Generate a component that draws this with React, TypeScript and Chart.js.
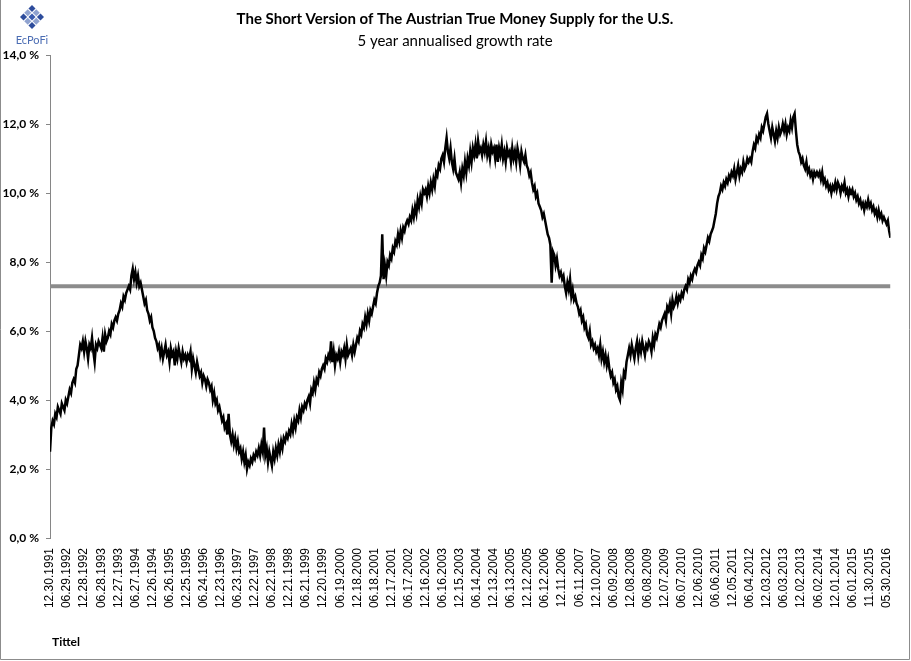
import React, { useEffect, useRef } from "react";
import { Chart, registerables } from "chart.js";
Chart.register(...registerables);

const titleText = "The Short Version of The Austrian True Money Supply for the U.S.";
const subtitleText = "5 year annualised growth rate";
const axisTitle = "Tittel";
const brandText = "EcPoFi";

// half-year tick labels (every 13 bi-weekly observations)
const tickLabels = [
  "12.30.1991", "06.29.1992", "12.28.1992", "06.28.1993", "12.27.1993", "06.27.1994",
  "12.26.1994", "06.26.1995", "12.25.1995", "06.24.1996", "12.23.1996", "06.23.1997",
  "12.22.1997", "06.22.1998", "12.21.1998", "06.21.1999", "12.20.1999", "06.19.2000",
  "12.18.2000", "06.18.2001", "12.17.2001", "06.17.2002", "12.16.2002", "06.16.2003",
  "12.15.2003", "06.14.2004", "12.13.2004", "06.13.2005", "12.12.2005", "06.12.2006",
  "12.11.2006", "06.11.2007", "12.10.2007", "06.09.2008", "12.08.2008", "06.08.2009",
  "12.07.2009", "06.07.2010", "12.06.2010", "06.06.2011", "12.05.2011", "06.04.2012",
  "12.03.2012", "06.03.2013", "12.02.2013", "06.02.2014", "12.01.2014", "06.01.2015",
  "11.30.2015", "05.30.2016",
];
const pointsPerTick = 13;

// 5 year annualised growth rate (%), bi-weekly readings
const growth = [
  2.5, 3.2, 3.4, 3.3, 3.6, 3.5, 3.8, 3.7, 3.6, 3.9, 3.8, 3.7, 4.0,
  3.9, 4.1, 4.3, 4.2, 4.5, 4.6, 4.5, 4.9, 5.0, 5.3, 5.6, 5.5, 5.7,
  5.4, 5.7, 5.5, 5.2, 5.6, 5.5, 5.8, 5.4, 5.1, 5.6, 5.5, 5.7, 5.6,
  5.5, 5.8, 5.4, 5.9, 5.7, 5.8, 6.0, 5.9, 6.2, 6.1, 6.3, 6.4, 6.3,
  6.5, 6.6, 6.8, 6.7, 7.0, 6.9, 7.1, 7.2, 7.3, 7.2, 7.6, 7.8, 7.5,
  7.7, 7.4, 7.6, 7.3, 7.4, 7.2, 7.0, 6.8, 6.9, 6.6, 6.5, 6.3, 6.4,
  6.1, 6.0, 5.8, 5.7, 5.5, 5.6, 5.3, 5.5, 5.2, 5.4, 5.6, 5.3, 5.4,
  5.1, 5.5, 5.3, 5.4, 5.0, 5.4, 5.2, 5.5, 5.3, 5.1, 5.4, 5.2, 5.3,
  5.1, 5.3, 5.2, 5.4, 4.9, 5.2, 5.0, 4.8, 5.1, 4.9, 4.7, 4.8, 4.5,
  4.7, 4.6, 4.4, 4.6, 4.5, 4.3, 4.4, 4.0, 4.2, 3.9, 4.0, 3.7, 3.8,
  3.6, 3.4, 3.5, 3.2, 3.3, 3.0, 3.6, 3.0, 2.8, 3.0, 2.7, 2.9, 2.6,
  2.8, 2.5, 2.6, 2.3, 2.5, 2.2, 2.4, 2.0, 2.2, 2.1, 2.3, 2.2, 2.4,
  2.3, 2.5, 2.4, 2.6, 2.4, 2.7, 2.5, 3.2, 2.4, 2.6, 2.2, 2.5, 2.3,
  2.1, 2.5, 2.3, 2.6, 2.4, 2.7, 2.5, 2.8, 2.6, 2.9, 2.8, 3.0, 2.9,
  3.1, 3.0, 3.3, 3.1, 3.4, 3.2, 3.5, 3.4, 3.7, 3.5, 3.8, 3.7, 3.9,
  3.8, 4.0, 4.1, 3.9, 4.3, 4.2, 4.5, 4.3, 4.6, 4.5, 4.8, 4.7, 4.9,
  5.0, 4.9, 5.2, 5.1, 5.3, 5.2, 5.7, 5.1, 5.4, 5.0, 5.3, 5.2, 5.4,
  5.1, 5.4, 5.3, 5.5, 5.2, 5.6, 5.3, 5.4, 5.5, 5.3, 5.6, 5.4, 5.6,
  5.8, 5.7, 6.0, 5.9, 6.2, 6.1, 6.4, 6.2, 6.5, 6.3, 6.6, 6.5, 6.7,
  6.9, 6.8, 7.1, 7.3, 7.4, 7.6, 8.8, 7.5, 7.9, 7.6, 8.0, 7.9, 8.2,
  8.1, 8.4, 8.3, 8.6, 8.5, 8.8, 8.6, 8.9, 8.7, 9.0, 8.9, 9.1, 9.2,
  9.1, 9.3, 9.2, 9.5, 9.3, 9.6, 9.4, 9.8, 9.6, 9.9, 9.7, 10.1, 10.0,
  10.1, 9.9, 10.2, 10.0, 10.3, 10.1, 10.4, 10.2, 10.6, 10.5, 10.8, 10.7, 11.0,
  11.1, 10.9, 11.3, 11.6, 11.2, 11.0, 11.3, 10.9, 10.7, 11.0, 10.6, 10.5, 10.4,
  10.6, 10.3, 10.7, 10.5, 10.9, 10.6, 11.0, 10.8, 11.2, 10.9, 11.3, 11.1, 11.4,
  11.0, 11.5, 11.2, 11.3, 11.1, 11.4, 11.2, 11.5, 11.1, 11.3, 11.0, 11.4, 11.2,
  11.3, 11.0, 11.4, 10.9, 11.3, 11.1, 11.4, 11.0, 11.2, 10.9, 11.3, 11.1, 11.2,
  10.9, 11.3, 11.0, 11.2, 10.9, 11.3, 11.1, 10.8, 11.2, 11.0, 10.9, 11.1, 10.8,
  10.7, 10.5, 10.6, 10.3, 10.1, 10.2, 9.9, 10.0, 9.7, 9.6, 9.5, 9.3, 9.4,
  9.2, 9.0, 8.8, 8.7, 8.5, 7.4, 8.3, 8.2, 7.9, 8.1, 7.8, 7.6, 7.7,
  7.5, 7.6, 7.3, 7.1, 7.4, 7.2, 7.5, 7.0, 7.2, 6.9, 7.0, 6.8, 6.7,
  6.5, 6.6, 6.3, 6.4, 6.1, 6.2, 5.9, 5.8, 6.0, 5.6, 5.7, 5.5, 5.6,
  5.4, 5.5, 5.3, 5.6, 5.2, 5.4, 5.1, 5.3, 5.0, 5.2, 4.9, 4.7, 4.8,
  4.5, 4.6, 4.3, 4.4, 4.1, 4.0, 4.5, 4.3, 4.8, 4.7, 5.1, 5.3, 5.5,
  5.3, 5.6, 5.4, 5.2, 5.5, 5.7, 5.3, 5.6, 5.4, 5.7, 5.5, 5.3, 5.6,
  5.5, 5.7, 5.6, 5.4, 5.8, 5.6, 5.9, 5.8, 6.0, 6.2, 6.1, 6.3, 6.4,
  6.5, 6.3, 6.7, 6.6, 6.8, 6.5, 6.9, 6.7, 6.8, 7.0, 6.8, 7.0, 6.9,
  7.1, 7.0, 7.2, 7.3, 7.2, 7.5, 7.4, 7.6, 7.5, 7.7, 7.8, 7.7, 7.9,
  8.0, 7.9, 8.2, 8.1, 8.4, 8.3, 8.5, 8.7, 8.6, 8.8, 8.9, 9.0, 9.2,
  9.4, 9.7, 9.9, 10.0, 10.2, 10.1, 10.3, 10.2, 10.4, 10.3, 10.5, 10.4, 10.6,
  10.5, 10.7, 10.4, 10.6, 10.8, 10.5, 10.7, 10.6, 10.9, 10.7, 10.8, 11.0, 10.9,
  11.0, 10.9, 11.2, 11.4, 11.3, 11.6, 11.5, 11.7, 11.6, 11.9, 11.8, 12.0, 12.2,
  12.3, 12.0, 11.8, 11.6, 11.9, 11.7, 11.5, 11.8, 11.6, 11.9, 11.7, 11.8, 12.0,
  11.8, 12.0, 11.7, 11.9, 11.8, 12.1, 11.9, 12.2, 12.3, 11.8, 11.4, 11.2, 11.1,
  10.9, 11.0, 10.8, 10.7, 10.9, 10.6, 10.7, 10.5, 10.6, 10.4, 10.6, 10.5, 10.6,
  10.5, 10.6, 10.4, 10.6, 10.3, 10.4, 10.2, 10.3, 10.1, 10.2, 10.0, 10.2, 10.1,
  10.3, 10.1, 10.3, 10.2, 10.0, 10.2, 10.1, 10.3, 10.0, 10.1, 9.9, 10.1, 10.0,
  10.1, 9.9, 10.0, 9.8, 9.9, 9.7, 9.8, 9.6, 9.7, 9.5, 9.7, 9.6, 9.8,
  9.6, 9.7, 9.5, 9.6, 9.4, 9.5, 9.3, 9.5, 9.3, 9.4, 9.2, 9.3, 9.2,
  9.1, 9.2, 8.9, 8.7,
];

// long-run average reference line (%)
const averageRate = 7.3;

const W = 911;
const H = 661;

const decorPlugin = {
  id: "decor",
  afterDraw(chart: any) {
    const ctx = chart.ctx as CanvasRenderingContext2D;
    ctx.save();
    // outer frame
    ctx.strokeStyle = "#8c8c8c";
    ctx.lineWidth = 1;
    ctx.beginPath();
    ctx.moveTo(0.5, 0);
    ctx.lineTo(0.5, 659.5);
    ctx.lineTo(909.5, 659.5);
    ctx.lineTo(909.5, 0);
    ctx.stroke();

    // titles
    ctx.fillStyle = "#000";
    ctx.textAlign = "center";
    ctx.textBaseline = "middle";
    ctx.font = "bold 15px Lato";
    ctx.fillText(titleText, 455, 19);
    ctx.font = "15px Lato";
    ctx.fillText(subtitleText, 455, 41);

    // axis title
    ctx.textAlign = "left";
    ctx.font = "bold 12px Lato";
    ctx.fillText(axisTitle, 52, 642);

    // logo
    ctx.save();
    ctx.translate(32, 17);
    ctx.rotate(Math.PI / 4);
    const cols = ["#2d4c9c", "#8fa2cf", "#2d4c9c", "#8fa2cf", "#3b5cae", "#8fa2cf", "#2d4c9c", "#8fa2cf", "#2d4c9c"];
    for (let r = 0; r < 3; r++) {
      for (let c = 0; c < 3; c++) {
        ctx.fillStyle = cols[r * 3 + c];
        ctx.fillRect(-8.5 + c * 6, -8.5 + r * 6, 5, 5);
      }
    }
    ctx.restore();
    ctx.fillStyle = "#4a6cb3";
    ctx.textAlign = "center";
    ctx.font = "11px Lato";
    ctx.fillText(brandText, 32, 40);
    ctx.restore();
  },
};

export default function App() {
  const ref = useRef<HTMLCanvasElement | null>(null);

  useEffect(() => {
    if (!ref.current) return;
    const lastIndex = growth.length - 1;
    const chart = new Chart(ref.current, {
      type: "line",
      data: {
        datasets: [
          {
            data: growth.map((v, i) => ({ x: i, y: v })),
            borderColor: "#000",
            borderWidth: 2.5,
            pointRadius: 0,
            tension: 0,
            order: 0,
          },
          {
            data: [
              { x: 0, y: averageRate },
              { x: lastIndex, y: averageRate },
            ],
            borderColor: "#8c8c8c",
            borderWidth: 4,
            pointRadius: 0,
            order: 1,
          },
        ],
      },
      options: {
        animation: false,
        responsive: false,
        events: [],
        layout: { padding: { top: 55, right: W - 897, left: 0, bottom: 0 } },
        plugins: {
          legend: { display: false },
          tooltip: { enabled: false },
          title: { display: false },
        },
        scales: {
          x: {
            type: "linear",
            min: 0,
            max: lastIndex,
            grid: { display: false, drawTicks: false },
            border: { display: false },
            afterBuildTicks: (scale: any) => {
              scale.ticks = tickLabels.map((_, i) => ({ value: i * pointsPerTick }));
            },
            afterFit: (scale: any) => {
              scale.height = H - 538;
            },
            ticks: {
              autoSkip: false,
              maxRotation: 90,
              minRotation: 90,
              padding: 10,
              color: "#000",
              font: { family: "Liberation Sans", size: 12 },
              callback: (v: any) => tickLabels[Math.round(Number(v) / pointsPerTick)] ?? "",
            },
          },
          y: {
            min: 0,
            max: 14,
            grid: {
              display: true,
              drawOnChartArea: false,
              drawTicks: true,
              tickLength: 4,
              color: "#868686",
            },
            border: { display: true, color: "#868686", width: 1 },
            afterFit: (scale: any) => {
              scale.width = 50;
            },
            ticks: {
              stepSize: 2,
              padding: 7,
              color: "#000",
              font: { family: "Lato", size: 12, weight: "bold" },
              callback: (v: any) => Number(v).toFixed(1).replace(".", ",") + " %",
            },
          },
        },
      },
      plugins: [decorPlugin],
    });
    return () => chart.destroy();
  }, []);

  return (
    <div style={{ position: "fixed", left: 0, top: 0, width: W, height: H, background: "#fff" }}>
      <canvas ref={ref} width={W} height={H} style={{ display: "block" }} />
    </div>
  );
}
